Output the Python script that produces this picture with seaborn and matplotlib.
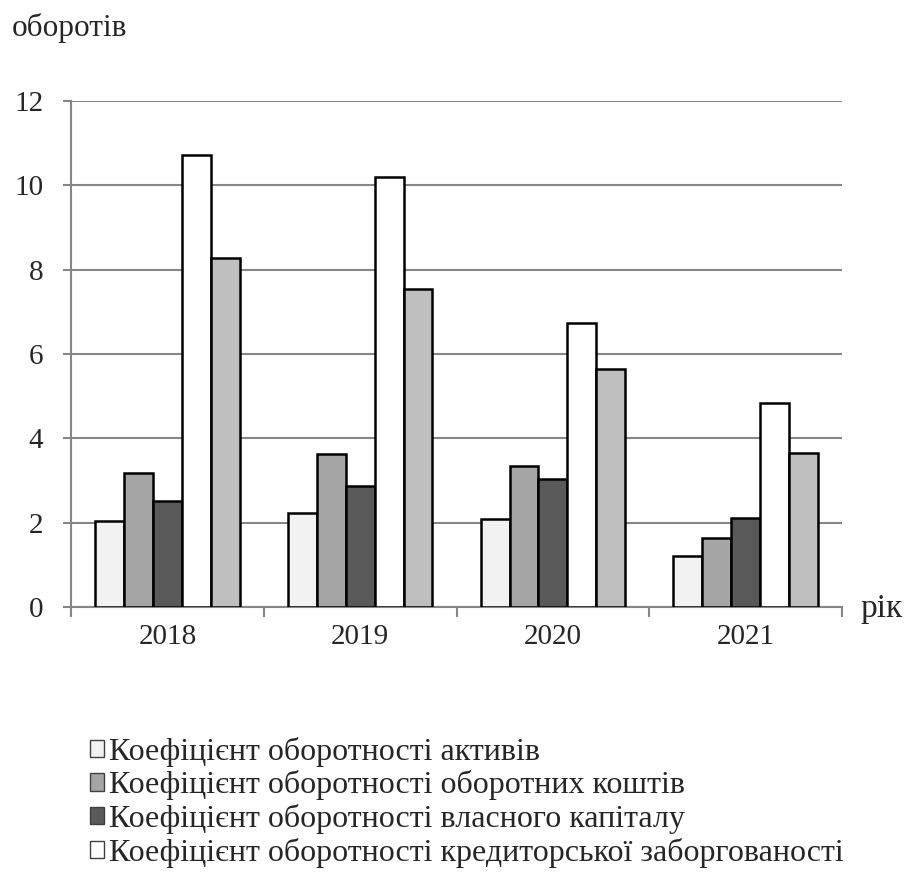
import pandas as pd
import seaborn as sns
import matplotlib.pyplot as plt

# ----------------------------
# DATA
# ----------------------------
years = ["2018", "2019", "2020", "2021"]
series = [
    "Коефіцієнт оборотності активів",
    "Коефіцієнт оборотності оборотних коштів",
    "Коефіцієнт оборотності власного капіталу",
    "Коефіцієнт оборотності кредиторської заборгованості",
    "Коефіцієнт оборотності дебіторської заборгованості",
]
assets = [2.04, 2.24, 2.09, 1.20]
current_funds = [3.17, 3.63, 3.34, 1.63]
equity = [2.52, 2.87, 3.04, 2.12]
payables = [10.72, 10.20, 6.73, 4.84]
receivables = [8.27, 7.54, 5.64, 3.64]
colors = ["#F2F2F2", "#A5A5A5", "#595959", "#FFFFFF", "#BFBFBF"]

df = pd.DataFrame({
    "year": years * 5,
    "series": [s for s in series for _ in years],
    "value": assets + current_funds + equity + payables + receivables,
})

# ----------------------------
# PLOT
# ----------------------------
sns.set_style("white")
plt.rcParams["font.family"] = ["Liberation Serif", "DejaVu Serif"]

fig = plt.figure(figsize=(9.05, 8.72), dpi=100)
ax = fig.add_axes([0.0785, 0.304, 0.852, 0.580])

sns.barplot(data=df, x="year", y="value", hue="series", hue_order=series,
            palette=colors, width=0.75, edgecolor="black", linewidth=1.8,
            saturation=1, ax=ax, zorder=3)

ax.set_ylim(0, 12)
ax.set_yticks(range(0, 13, 2))
ax.set_xlim(-0.5, 3.5)
ax.grid(axis="y", color="#868686", linewidth=1.5, zorder=0)
ax.set_axisbelow(True)

for side in ["top", "right"]:
    ax.spines[side].set_visible(False)
for side in ["left", "bottom"]:
    ax.spines[side].set_color("#868686")
    ax.spines[side].set_linewidth(1.5)

ax.tick_params(axis="y", length=6, width=1.5, color="#868686",
               labelsize=21, pad=14, left=True)
ax.tick_params(axis="x", which="major", length=0, labelsize=21, pad=12)
ax.set_xticks([-0.5, 0.5, 1.5, 2.5, 3.5], minor=True)
ax.tick_params(axis="x", which="minor", length=7, width=1.5,
               color="#868686", bottom=True)

ax.set_xlabel("")
ax.set_ylabel("")
fig.text(0.013, 0.968, "оборотів", fontsize=22.5, va="center", ha="left")
fig.text(0.951, 0.302, "рік", fontsize=24, va="center", ha="left")

handles, labels = ax.get_legend_handles_labels()
for h in handles:
    h.set_edgecolor("#404040")
    h.set_linewidth(1.0)
ax.legend(handles[:4], labels[:4], loc="upper left",
          bbox_to_anchor=(0.085, 0.170), bbox_transform=fig.transFigure,
          frameon=False, fontsize=23, handlelength=0.45, handleheight=0.45,
          handletextpad=0.15, labelspacing=0.12, borderaxespad=0)

fig.savefig("out.png", dpi=100)
